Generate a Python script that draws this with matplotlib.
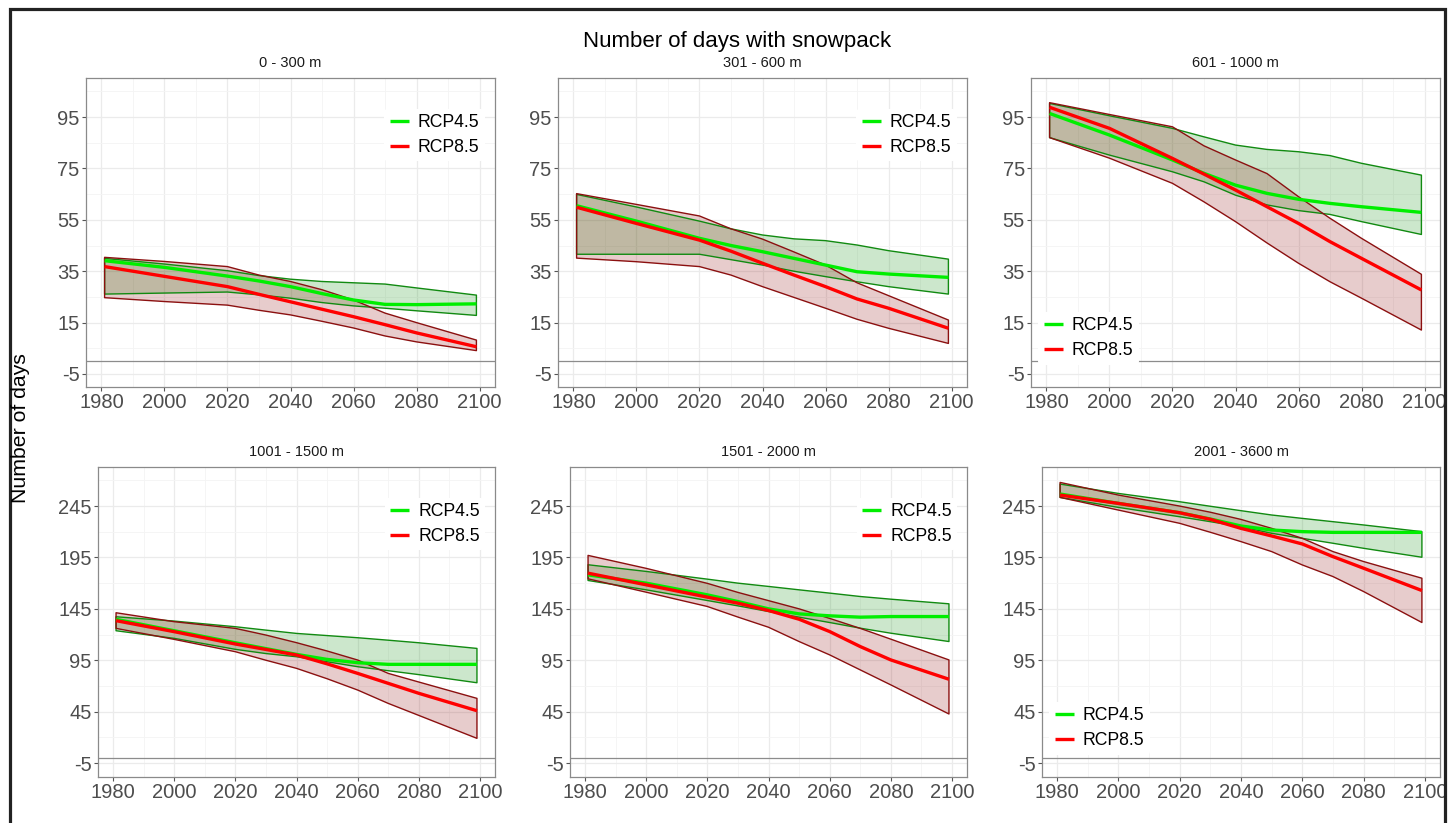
import matplotlib
matplotlib.use("Agg")
import matplotlib.pyplot as plt
from matplotlib.patches import Rectangle
from matplotlib.ticker import MultipleLocator, FixedLocator

plt.rcParams["font.family"] = ["Liberation Sans", "DejaVu Sans"]
plt.rcParams["axes.unicode_minus"] = False

W, H = 1448, 823

YEARS = [1981, 2000, 2020, 2030, 2040, 2050, 2060, 2070, 2080, 2099]

ELEVATION_BANDS = ["0 - 300 m", "301 - 600 m", "601 - 1000 m",
                   "1001 - 1500 m", "1501 - 2000 m", "2001 - 3600 m"]

SCENARIOS = ["RCP4.5", "RCP8.5"]

# ensemble mean and spread per elevation band (days)
RCP45_MEAN = [
    [39.1, 36.5, 33.1, 31.2, 29.0, 26.3, 23.8, 22.1, 22.0, 22.3],
    [60.5, 54.5, 47.8, 45.0, 42.6, 40.0, 37.4, 34.8, 33.9, 32.6],
    [96.4, 88.0, 78.3, 73.1, 68.5, 65.3, 63.0, 61.4, 60.1, 57.9],
    [134.8, 123.7, 112.0, 106.3, 100.7, 95.8, 92.6, 91.0, 91.0, 91.0],
    [178.1, 170.0, 158.6, 152.1, 145.0, 140.1, 138.2, 136.9, 137.5, 137.5],
    [256.7, 247.6, 238.5, 232.4, 225.6, 221.7, 220.1, 219.4, 219.4, 219.4],
]
RCP45_LOW = [
    [26.1, 26.5, 26.9, 25.8, 24.5, 22.8, 21.5, 20.6, 19.6, 17.8],
    [41.6, 41.6, 41.6, 39.5, 37.4, 35.0, 32.9, 30.9, 29.0, 26.1],
    [87.0, 80.2, 73.7, 69.8, 64.6, 60.8, 58.6, 57.1, 54.3, 49.3],
    [123.7, 116.3, 105.6, 101.5, 98.4, 93.5, 88.7, 84.8, 81.0, 73.1],
    [172.6, 163.5, 153.1, 147.9, 142.4, 136.9, 131.7, 126.2, 121.3, 113.2],
    [253.4, 243.7, 234.6, 229.8, 224.9, 218.5, 213.6, 208.8, 203.9, 195.2],
]
RCP45_HIGH = [
    [40.0, 37.8, 35.2, 33.3, 31.9, 31.0, 30.5, 30.0, 28.5, 25.7],
    [64.9, 60.0, 54.5, 51.5, 49.1, 47.6, 46.9, 45.2, 43.0, 39.7],
    [100.3, 95.5, 90.6, 87.3, 84.1, 82.4, 81.5, 80.0, 77.0, 72.4],
    [137.3, 133.1, 127.6, 124.3, 121.1, 119.0, 116.9, 114.5, 112.0, 106.5],
    [187.9, 181.4, 173.9, 170.0, 166.8, 163.5, 160.3, 157.0, 154.4, 149.9],
    [266.4, 257.3, 249.2, 244.8, 240.5, 236.3, 233.0, 229.8, 226.6, 220.1],
]
RCP85_MEAN = [
    [36.8, 33.0, 29.0, 26.0, 23.1, 20.2, 17.3, 14.2, 11.0, 5.6],
    [59.9, 53.6, 47.1, 42.8, 38.1, 33.5, 29.0, 24.2, 20.6, 12.8],
    [98.8, 90.6, 78.9, 72.8, 66.6, 60.1, 53.6, 46.5, 40.0, 27.7],
    [133.5, 122.8, 110.8, 105.5, 100.1, 91.5, 82.2, 72.5, 62.8, 45.9],
    [179.7, 168.4, 156.4, 150.5, 143.4, 134.9, 122.9, 108.3, 95.3, 76.5],
    [255.7, 247.6, 238.5, 232.1, 223.3, 215.9, 208.1, 195.8, 184.5, 162.8],
]
RCP85_LOW = [
    [24.7, 23.2, 21.8, 19.8, 18.0, 15.5, 12.9, 9.8, 7.5, 4.1],
    [40.1, 38.7, 36.8, 33.5, 29.0, 24.8, 20.6, 16.3, 12.8, 6.9],
    [87.0, 79.0, 69.2, 62.0, 54.3, 46.0, 38.1, 30.9, 24.5, 12.1],
    [126.0, 115.3, 103.3, 95.0, 87.1, 77.0, 66.0, 53.0, 41.3, 19.0],
    [174.2, 161.2, 147.3, 137.0, 127.1, 113.2, 100.2, 85.6, 71.0, 42.7],
    [253.4, 241.1, 228.2, 219.5, 210.4, 200.7, 187.7, 176.4, 161.8, 131.7],
]
RCP85_HIGH = [
    [40.4, 38.8, 36.8, 33.5, 31.0, 27.8, 23.8, 18.7, 15.0, 8.2],
    [65.2, 61.0, 56.5, 51.5, 47.5, 42.5, 37.4, 30.5, 25.5, 16.0],
    [100.6, 96.0, 91.2, 83.8, 78.3, 73.0, 64.0, 55.6, 47.8, 33.8],
    [141.2, 132.5, 126.0, 119.5, 112.1, 104.0, 95.2, 82.2, 73.8, 57.9],
    [197.0, 184.4, 169.8, 161.0, 153.0, 145.0, 135.7, 126.0, 115.5, 95.3],
    [268.0, 255.7, 245.0, 239.0, 232.0, 223.3, 213.6, 200.7, 191.0, 174.8],
]

# panel boxes in pixels: x0, y0, x1, y1 (from top-left)
PANEL_BOXES = [
    (86, 78, 495, 387), (558, 78, 967, 387), (1031, 78, 1440, 387),
    (98, 467, 495, 777), (570, 467, 967, 777), (1042, 467, 1440, 777),
]
LEGEND_CORNER = ["upper right", "upper right", "lower left",
                 "upper right", "upper right", "lower left"]

LINE_COLORS = {"RCP4.5": "#00EE00", "RCP8.5": "#FF0000"}
FILL_COLORS = {"RCP4.5": "#008B00", "RCP8.5": "#8B0000"}
EDGE_COLORS = {"RCP4.5": "#118A11", "RCP8.5": "#8B1010"}


def to_fig(box):
    x0, y0, x1, y1 = box
    return [x0 / W, 1 - y1 / H, (x1 - x0) / W, (y1 - y0) / H]


def style_axes(ax, top_row):
    ax.set_xlim(1975.1, 2104.9)
    ax.xaxis.set_major_locator(MultipleLocator(20))
    ax.xaxis.set_minor_locator(FixedLocator(range(1990, 2100, 20)))
    if top_row:
        ax.set_ylim(-10.06, 110.2)
        ax.yaxis.set_major_locator(FixedLocator(range(-5, 100, 20)))
        ax.yaxis.set_minor_locator(FixedLocator(range(5, 110, 20)))
    else:
        ax.set_ylim(-18.6, 283)
        ax.yaxis.set_major_locator(FixedLocator(range(-5, 250, 50)))
        ax.yaxis.set_minor_locator(FixedLocator(range(20, 280, 50)))
    ax.grid(which="major", color="#EBEBEB", lw=0.9)
    ax.grid(which="minor", color="#F4F4F4", lw=0.6)
    ax.set_axisbelow(True)
    for sp in ax.spines.values():
        sp.set_color("#8A8A8A")
        sp.set_linewidth(0.9)
    ax.tick_params(which="major", length=3, width=0.8, color="#555555",
                   labelsize=14.5, labelcolor="#4D4D4D", pad=1.5)
    ax.tick_params(which="minor", length=0)
    ax.axhline(0, color="#8C8C8C", lw=0.9, zorder=1)


fig = plt.figure(figsize=(W / 100, H / 100), dpi=100)

lows = {"RCP4.5": RCP45_LOW, "RCP8.5": RCP85_LOW}
highs = {"RCP4.5": RCP45_HIGH, "RCP8.5": RCP85_HIGH}
means = {"RCP4.5": RCP45_MEAN, "RCP8.5": RCP85_MEAN}

for i, label in enumerate(ELEVATION_BANDS):
    ax = fig.add_axes(to_fig(PANEL_BOXES[i]))
    style_axes(ax, i < 3)
    for sc in SCENARIOS:
        ax.fill_between(YEARS, lows[sc][i], highs[sc][i],
                        facecolor=FILL_COLORS[sc], alpha=0.2, lw=0, zorder=2)
        ax.fill_between(YEARS, lows[sc][i], highs[sc][i],
                        facecolor="none", edgecolor=EDGE_COLORS[sc], lw=1.0, zorder=3)
    for sc in SCENARIOS:
        ax.plot(YEARS, means[sc][i], color=LINE_COLORS[sc], lw=2.4,
                label=sc, zorder=4, solid_capstyle="butt")
    x0, y0, x1, y1 = PANEL_BOXES[i]
    fig.text((x0 + x1) / 2 / W, 1 - (y0 - 15) / H, label,
             ha="center", va="center", fontsize=10.5, color="#1A1A1A")
    if LEGEND_CORNER[i] == "upper right":
        anchor = (0.988, 0.918)
    else:
        anchor = (0.005, 0.055)
    leg = ax.legend(loc=LEGEND_CORNER[i], bbox_to_anchor=anchor, fontsize=12.7,
                    frameon=True, framealpha=1, facecolor="white", edgecolor="none",
                    handlelength=1.1, handletextpad=0.5, labelspacing=0.45,
                    borderpad=0.3, borderaxespad=0.3)
    leg.get_frame().set_linewidth(0)

fig.text(737 / W, 1 - 42 / H, "Number of days with snowpack",
         ha="center", va="center", fontsize=16, color="black")
fig.text(21 / W, 1 - 428 / H, "Number of days", rotation=90,
         ha="center", va="center", fontsize=15.3, color="black")

# outer frame around the whole figure
fig.add_artist(Rectangle((9.5 / W, -0.05), (1445 - 9.5) / W, 1 - 9.5 / H + 0.05,
                         transform=fig.transFigure, fill=False,
                         edgecolor="#222222", lw=2.3))

fig.savefig("out.png", dpi=100)
